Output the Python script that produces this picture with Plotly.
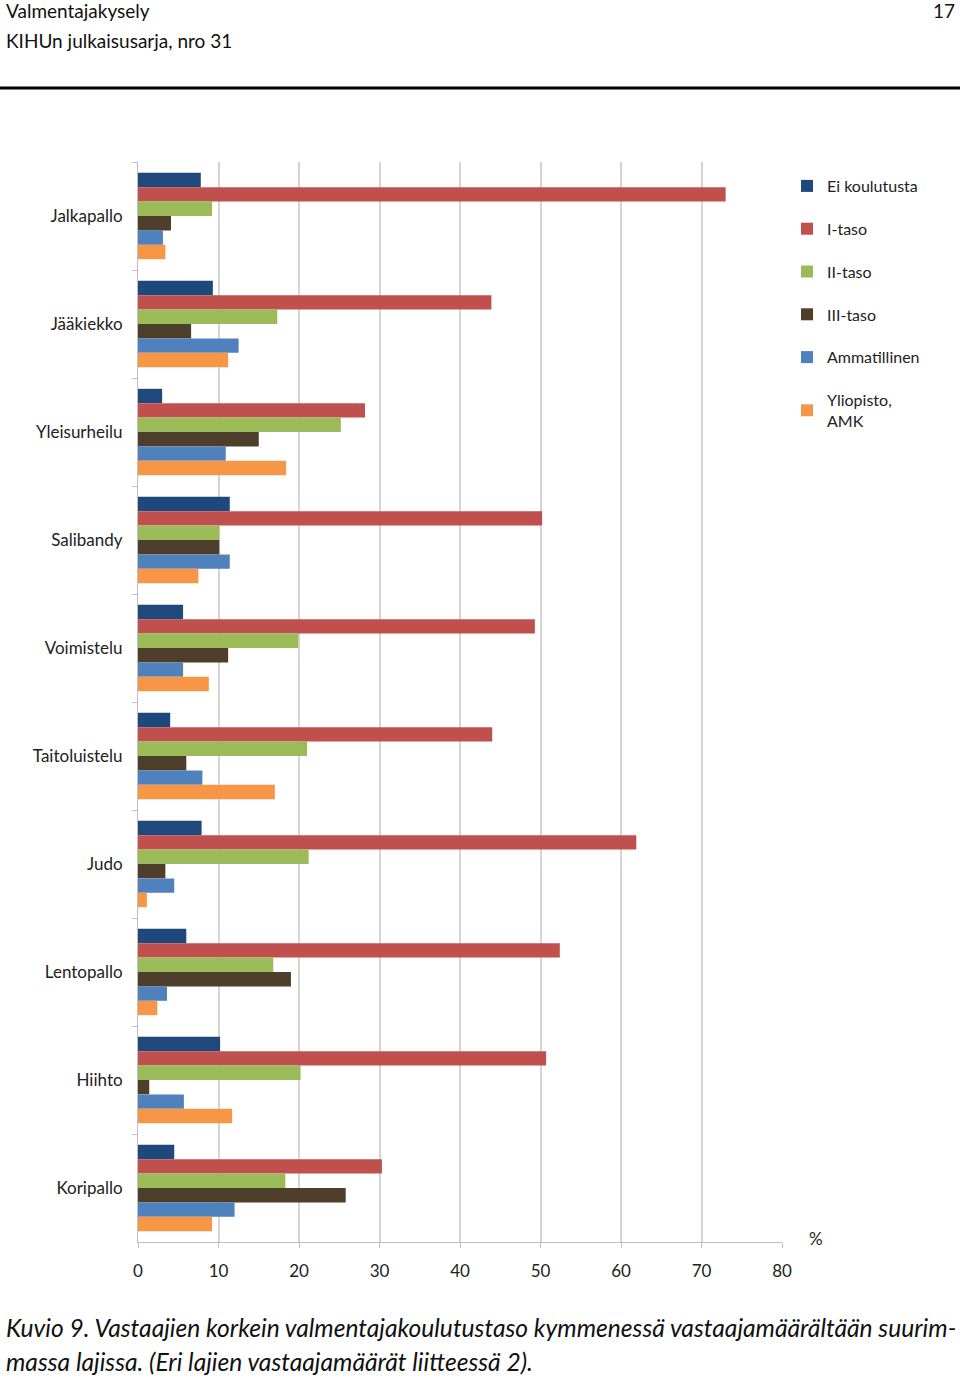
import plotly.graph_objects as go

sports = ["Jalkapallo", "Jääkiekko", "Yleisurheilu", "Salibandy", "Voimistelu",
          "Taitoluistelu", "Judo", "Lentopallo", "Hiihto", "Koripallo"]

ei_koulutusta = [7.8, 9.3, 3.0, 11.4, 5.6, 4.0, 7.9, 6.0, 10.2, 4.5]
i_taso        = [73.0, 43.9, 28.2, 50.2, 49.3, 44.0, 61.9, 52.4, 50.7, 30.3]
ii_taso       = [9.2, 17.3, 25.2, 10.1, 19.9, 21.0, 21.2, 16.8, 20.2, 18.3]
iii_taso      = [4.1, 6.6, 15.0, 10.1, 11.2, 6.0, 3.4, 19.0, 1.4, 25.8]
ammatillinen  = [3.1, 12.5, 10.9, 11.4, 5.6, 8.0, 4.5, 3.6, 5.7, 12.0]
yliopisto_amk = [3.4, 11.2, 18.4, 7.5, 8.8, 17.0, 1.1, 2.4, 11.7, 9.2]

series_names = ["Ei koulutusta", "I-taso", "II-taso", "III-taso", "Ammatillinen", "Yliopisto,<br>AMK"]
series_values = [ei_koulutusta, i_taso, ii_taso, iii_taso, ammatillinen, yliopisto_amk]
colors = ["#1F497D", "#C0504D", "#9BBB59", "#4D3F2B", "#4F81BD", "#F79646"]

x_ticks = [0, 10, 20, 30, 40, 50, 60, 70, 80]

W, H = 960, 1379
L, R, T, B = 138, 782, 162, 1242


def px2x(px):
    return (px - L) / (R - L)


def py2y(py):
    return (B - py) / (B - T)


fig = go.Figure()
for i, (name, vals, col) in enumerate(zip(series_names, series_values, colors)):
    fig.add_trace(go.Bar(
        y=sports, x=vals, name=name, orientation="h",
        marker=dict(color=col, line=dict(width=0)),
        legendgroup=f"g{i}",
    ))

font_main = "Lato, 'Open Sans', sans-serif"

fig.update_layout(
    width=W, height=H,
    margin=dict(l=L, r=W - R, t=T, b=H - B, pad=0),
    paper_bgcolor="white", plot_bgcolor="white",
    barmode="group", bargap=0.2, bargroupgap=0,
    font=dict(family=font_main, color="#222222", size=17),
    showlegend=True,
    legend=dict(
        x=px2x(787), y=py2y(169), xanchor="left", yanchor="top",
        traceorder="grouped", tracegroupgap=19,
        font=dict(size=16, color="#222222"),
        bgcolor="rgba(0,0,0,0)",
    ),
    xaxis=dict(
        range=[0, 80], tickvals=x_ticks, ticktext=[str(v) for v in x_ticks],
        showgrid=True, gridcolor="#D4D4D4", gridwidth=2,
        showline=True, linecolor="#BFBFBF", linewidth=1,
        ticks="outside", ticklen=5, tickcolor="#BFBFBF",
        tickfont=dict(size=17, color="#222222"),
        ticklabelstandoff=9, zeroline=False, fixedrange=True,
    ),
    yaxis=dict(
        categoryorder="array", categoryarray=sports, autorange="reversed",
        showline=True, linecolor="#BFBFBF", linewidth=1,
        ticks="outside", ticklen=5, tickcolor="#BFBFBF", tickson="boundaries",
        tickfont=dict(size=17, color="#222222"),
        ticklabelstandoff=11, showgrid=False, fixedrange=True,
    ),
)

header_font = dict(family=font_main, size=19, color="#111111")
caption_font = dict(family=font_main, size=24.6, color="#111111")
annotations = [
    dict(text="Valmentajakysely", x=px2x(4), y=py2y(11), xanchor="left", yanchor="middle",
         font=header_font),
    dict(text="KIHUn julkaisusarja, nro 31", x=px2x(4), y=py2y(40), xanchor="left", yanchor="middle",
         font=header_font),
    dict(text="17", x=px2x(957), y=py2y(11), xanchor="right", yanchor="middle",
         font=header_font),
    dict(text="%", x=px2x(807), y=py2y(1238), xanchor="left", yanchor="middle",
         font=dict(family=font_main, size=17, color="#222222")),
    dict(text="<i>Kuvio 9. Vastaajien korkein valmentajakoulutustaso kymmenessä vastaajamäärältään suurim-</i>",
         x=px2x(4), y=py2y(1327), xanchor="left", yanchor="middle", font=caption_font),
    dict(text="<i>massa lajissa. (Eri lajien vastaajamäärät liitteessä 2).</i>",
         x=px2x(4), y=py2y(1361), xanchor="left", yanchor="middle", font=caption_font),
]
for a in annotations:
    a.update(xref="paper", yref="paper", showarrow=False)
fig.update_layout(annotations=annotations)

fig.add_shape(type="line", xref="paper", yref="paper",
              x0=px2x(0), x1=px2x(960), y0=py2y(88), y1=py2y(88),
              line=dict(color="black", width=3))

fig.write_html("out.html",
               config={"displayModeBar": False},
               post_script="document.body.style.margin='0';document.body.style.padding='0';")
